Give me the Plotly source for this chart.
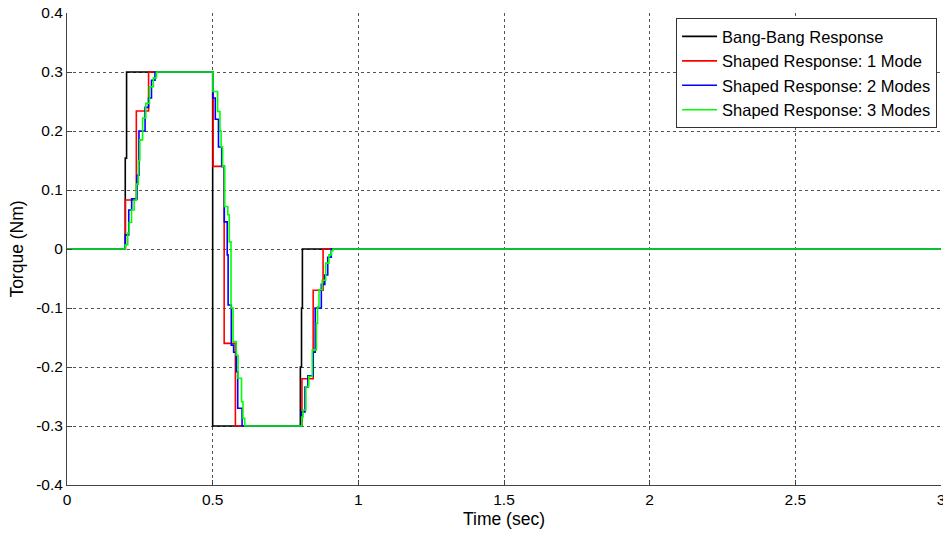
import plotly.graph_objects as go

# Bang-bang response (step breakpoints: time of change, new level)
t_bang = [0.0, 0.200, 0.2045, 0.500, 0.801, 0.805, 0.808, 3.0]
v_bang = [0.0, 0.154, 0.300, -0.300, -0.200, -0.100, 0.000, 0.0]

# Shaped response: 1 mode
t_m1 = [0.0, 0.2005, 0.238, 0.280, 0.5015, 0.5395, 0.578, 0.8065, 0.845, 0.879, 3.0]
v_m1 = [0.0, 0.083, 0.234, 0.300, 0.140, -0.160, -0.300, -0.220, -0.070, 0.000, 0.0]

# Shaped response: 2 modes
t_m2 = [0.0, 0.200, 0.212, 0.222, 0.240, 0.247, 0.268, 0.280, 0.290, 0.302,
        0.5005, 0.509, 0.520, 0.531, 0.540, 0.550, 0.553, 0.564, 0.572, 0.581, 0.586, 0.601,
        0.805, 0.817, 0.827, 0.845, 0.852, 0.873, 0.885, 0.895, 0.907, 3.0]
v_m2 = [0.0, 0.024, 0.066, 0.085, 0.125, 0.200, 0.240, 0.256, 0.286, 0.300,
        0.256, 0.220, 0.173, 0.140, 0.046, -0.010, -0.095, -0.163, -0.175, -0.208, -0.270, -0.300,
        -0.276, -0.234, -0.215, -0.175, -0.100, -0.060, -0.044, -0.014, 0.000, 0.0]

# Shaped response: 3 modes
t_m3 = [0.0, 0.200, 0.2085, 0.2135, 0.2215, 0.2305, 0.2375, 0.245, 0.250, 0.2595, 0.2705, 0.283, 0.2965, 0.307,
        0.501, 0.517, 0.525, 0.529, 0.534, 0.541, 0.552, 0.557, 0.563, 0.570, 0.581, 0.587, 0.599, 0.604, 0.610,
        0.806, 0.810, 0.820, 0.830, 0.842, 0.856, 0.860, 0.865, 0.876, 0.888, 0.899, 0.908, 0.913, 3.0]
v_m3 = [0.0, 0.007, 0.027, 0.045, 0.066, 0.083, 0.110, 0.150, 0.185, 0.222, 0.247, 0.275, 0.290, 0.300,
        0.267, 0.233, 0.200, 0.173, 0.140, 0.072, 0.058, 0.012, -0.100, -0.157, -0.180, -0.219, -0.259, -0.287, -0.300,
        -0.285, -0.273, -0.233, -0.216, -0.171, -0.126, -0.098, -0.069, -0.053, -0.024, -0.010, -0.003, 0.000, 0.0]

series = [
    ("Bang-Bang Response", t_bang, v_bang, "#000000"),
    ("Shaped Response: 1 Mode", t_m1, v_m1, "#ff0000"),
    ("Shaped Response: 2 Modes", t_m2, v_m2, "#0000ff"),
    ("Shaped Response: 3 Modes", t_m3, v_m3, "#00ff00"),
]

x_ticks = [0, 0.5, 1, 1.5, 2, 2.5, 3]
x_labels = ["0", "0.5", "1", "1.5", "2", "2.5", "3"]
y_ticks = [-0.4, -0.3, -0.2, -0.1, 0, 0.1, 0.2, 0.3, 0.4]
y_labels = ["-0.4", "-0.3", "-0.2", "-0.1", "0", "0.1", "0.2", "0.3", "0.4"]

fig = go.Figure()
for name, t, v, c in series:
    fig.add_trace(go.Scatter(x=t, y=v, mode="lines", name=name,
                             line=dict(color=c, width=1.6, shape="hv")))

font = "Liberation Sans, Arial, sans-serif"
fig.update_layout(
    width=943, height=533,
    margin=dict(l=67, r=2, t=13, b=48),
    paper_bgcolor="white", plot_bgcolor="white",
    font=dict(family=font, size=15.5, color="black"),
    showlegend=True,
    legend=dict(x=0.9955, y=0.989, xanchor="right", yanchor="top",
                bgcolor="white", bordercolor="#333333", borderwidth=1,
                font=dict(size=16.5), tracegroupgap=0, itemwidth=35),
    xaxis=dict(range=[0, 3], tickvals=x_ticks, ticktext=x_labels,
               showgrid=True, gridcolor="#555555", griddash="dot", gridwidth=1,
               showline=True, linecolor="#444444", linewidth=1,
               ticks="inside", ticklen=5, tickcolor="#444444",
               zeroline=False, ticklabeloverflow="allow", automargin=False,
               title=dict(text="Time (sec)", font=dict(size=17.5), standoff=6)),
    yaxis=dict(range=[-0.4, 0.4], tickvals=y_ticks, ticktext=y_labels,
               showgrid=True, gridcolor="#555555", griddash="dot", gridwidth=1,
               showline=True, linecolor="#444444", linewidth=1,
               ticks="inside", ticklen=5, tickcolor="#444444",
               zeroline=False,
               title=dict(text="Torque (Nm)", font=dict(size=17.5), standoff=8)),
)

fig.write_html("out.html")
